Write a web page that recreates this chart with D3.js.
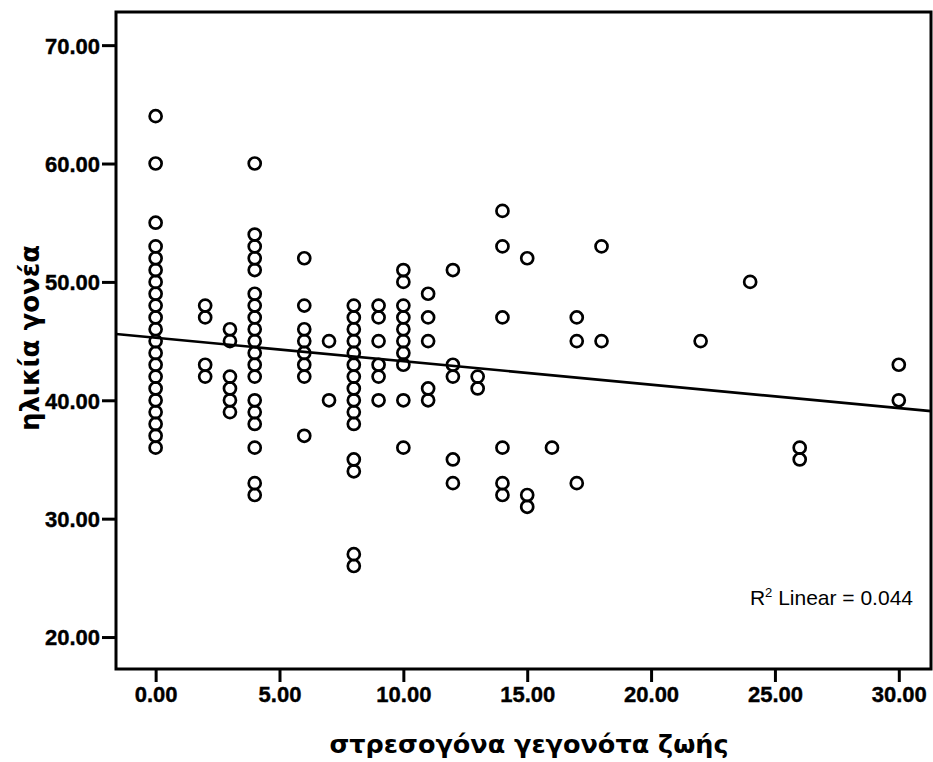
<!DOCTYPE html>
<html>
<head>
<meta charset="utf-8">
<script src="https://cdn.jsdelivr.net/npm/d3@7"></script>
<style>
  html, body { margin: 0; padding: 0; background: #fff; }
  svg { display: block; }
</style>
</head>
<body>
<script>
// stress events (x) grouped by column, parent age values (y) in each column
const eventCounts = [0, 2, 3, 4, 6, 7, 8, 9, 10, 11, 12, 13, 14, 15, 16, 17, 18, 22, 24, 26, 30];
const agesByCount = [
  [64, 60, 55, 53, 52, 51, 50, 49, 48, 47, 46, 45, 44, 43, 42, 41, 40, 39, 38, 37, 36],
  [48, 47, 43, 42],
  [46, 45, 42, 41, 40, 39],
  [60, 54, 53, 52, 51, 49, 48, 47, 46, 45, 44, 43, 42, 40, 39, 38, 36, 33, 32],
  [52, 48, 46, 45, 44, 43, 42, 37],
  [45, 40],
  [48, 47, 46, 45, 44, 43, 42, 41, 40, 39, 38, 35, 34, 27, 26],
  [48, 47, 45, 43, 42, 40],
  [51, 50, 48, 47, 46, 45, 44, 43, 40, 36],
  [49, 47, 45, 41, 40],
  [51, 43, 42, 35, 33],
  [42, 41],
  [56, 53, 47, 36, 33, 32],
  [52, 32, 31],
  [36],
  [47, 45, 33],
  [53, 45],
  [45],
  [50],
  [36, 35],
  [43, 40]
];

const xTicks = [0, 5, 10, 15, 20, 25, 30];
const yTicks = [20, 30, 40, 50, 60, 70];

// linear fit
const fitIntercept = 45.28;
const fitSlope = -0.198;
const fitLabel = "0.044";

const xTitle = "στρεσογόνα γεγονότα ζωής";
const yTitle = "ηλικία γονέα";

const points = eventCounts.flatMap((x, i) => agesByCount[i].map(y => ({x, y})));

const width = 933, height = 762;
const plot = {left: 116, right: 931, top: 12, bottom: 669};
const titleFont = "'DejaVu Sans', Verdana, sans-serif";
const tickFont = "'Liberation Sans', Arial, sans-serif";

const x = d3.scaleLinear().domain([-1.6, 31.3]).range([plot.left, plot.right]);
const y = d3.scaleLinear().domain([17.3, 72.8]).range([plot.bottom, plot.top]);

const svg = d3.select("body").append("svg")
  .attr("width", width)
  .attr("height", height)
  .style("font-family", tickFont);

svg.append("rect")
  .attr("width", width).attr("height", height)
  .attr("fill", "#fff");

const xAxis = svg.append("g")
  .attr("transform", `translate(0,${plot.bottom})`)
  .call(d3.axisBottom(x).tickValues(xTicks).tickFormat(d3.format(".2f")).tickSize(13).tickPadding(4).tickSizeOuter(0));

const yAxis = svg.append("g")
  .attr("transform", `translate(${plot.left},0)`)
  .call(d3.axisLeft(y).tickValues(yTicks).tickFormat(d3.format(".2f")).tickSize(14).tickPadding(2).tickSizeOuter(0));

for (const g of [xAxis, yAxis]) {
  g.select(".domain").remove();
  g.selectAll(".tick line").attr("stroke", "#000").attr("stroke-width", 3);
  g.selectAll(".tick text")
    .attr("fill", "#000")
    .attr("font-size", 22)
    .attr("font-weight", "bold")
    .attr("font-family", tickFont)
    .attr("stroke", "#000")
    .attr("stroke-width", 0.4);
}
yAxis.selectAll(".tick text").attr("dy", "0.36em");

// frame
svg.append("rect")
  .attr("x", plot.left).attr("y", plot.top)
  .attr("width", plot.right - plot.left).attr("height", plot.bottom - plot.top)
  .attr("fill", "none")
  .attr("stroke", "#000")
  .attr("stroke-width", 3);

// regression line
const [x0, x1] = x.domain();
svg.append("line")
  .attr("x1", x(x0)).attr("y1", y(fitIntercept + fitSlope * x0))
  .attr("x2", x(x1)).attr("y2", y(fitIntercept + fitSlope * x1))
  .attr("stroke", "#000")
  .attr("stroke-width", 2.6);

svg.append("g")
  .selectAll("circle")
  .data(points)
  .join("circle")
  .attr("cx", d => x(d.x))
  .attr("cy", d => y(d.y))
  .attr("r", 6)
  .attr("fill", "none")
  .attr("stroke", "#000")
  .attr("stroke-width", 2.7);

const r2 = svg.append("text")
  .attr("x", plot.right - 18)
  .attr("y", 605)
  .attr("text-anchor", "end")
  .attr("font-size", 21)
  .attr("fill", "#000");
r2.append("tspan").text("R");
r2.append("tspan").attr("font-size", 13).attr("dy", -8).text("2");
r2.append("tspan").attr("dy", 8).text(" Linear = " + fitLabel);

svg.append("text")
  .attr("x", 529)
  .attr("y", 753)
  .attr("text-anchor", "middle")
  .attr("font-family", titleFont)
  .attr("font-size", 25.5)
  .attr("font-weight", "bold")
  .attr("fill", "#000")
  .text(xTitle);

svg.append("text")
  .attr("transform", `translate(39,338) rotate(-90)`)
  .attr("text-anchor", "middle")
  .attr("font-family", titleFont)
  .attr("font-size", 26)
  .attr("font-weight", "bold")
  .attr("fill", "#000")
  .text(yTitle);
</script>
</body>
</html>
